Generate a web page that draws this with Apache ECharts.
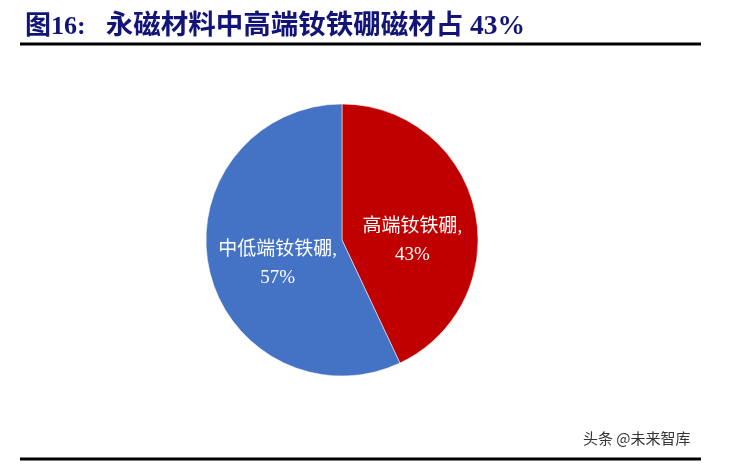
<!DOCTYPE html>
<html><head><meta charset="utf-8">
<script src="https://cdn.jsdelivr.net/npm/echarts@6/dist/echarts.min.js"></script>
<style>html,body{margin:0;padding:0;background:#fff}#c{width:731px;height:465px}</style>
</head><body><div id="c"></div>
<script>
const titleNumber = '图16:';
const titleText = '永磁材料中高端钕铁硼磁材占 43%';
const watermark = '头条 @未来智库';
const categories = ['高端钕铁硼', '中低端钕铁硼'];
const values = [43, 57];
const colors = ['#C00000', '#4472C4'];
const labelOffsets = [[1, 17], [5, 9]];

const serif = '"Liberation Serif","Noto Sans CJK SC",serif';
const chart = echarts.init(document.getElementById('c'));
chart.setOption({
  animation: false,
  title: {
    text: '{a|' + titleNumber + '}{b|' + titleText + '}', left: 20, top: 7,
    textStyle: {
      rich: {
        a: { color: '#121478', fontSize: 26, fontWeight: 'bold', fontFamily: serif, lineHeight: 30 },
        b: { color: '#121478', fontSize: 27.5, fontWeight: 'bold', fontFamily: serif, lineHeight: 30, padding: [0, 0, 0, 20] }
      }
    }
  },
  graphic: [
    { type: 'line', shape: { x1: 20, y1: 44, x2: 701, y2: 44 }, style: { stroke: '#000', lineWidth: 3 } },
    { type: 'line', shape: { x1: 20, y1: 459, x2: 701, y2: 459 }, style: { stroke: '#000', lineWidth: 3 } },
    { type: 'text', left: 583, top: 431, style: { text: watermark, fill: '#333', font: '15px "Noto Sans CJK SC", sans-serif' } }
  ],
  series: [{
    type: 'pie',
    center: [342, 240],
    radius: 136,
    startAngle: 90,
    clockwise: true,
    itemStyle: { borderColor: '#fff', borderWidth: 0.5 },
    label: {
      position: 'inside', color: '#fff', fontSize: 19, lineHeight: 28,
      fontFamily: serif,
      formatter: p => p.name + ',\n' + p.value + '%'
    },
    labelLine: { show: false },
    data: categories.map((n, i) => ({ name: n, value: values[i], itemStyle: { color: colors[i] }, label: { offset: labelOffsets[i] } }))
  }]
});
</script></body></html>
